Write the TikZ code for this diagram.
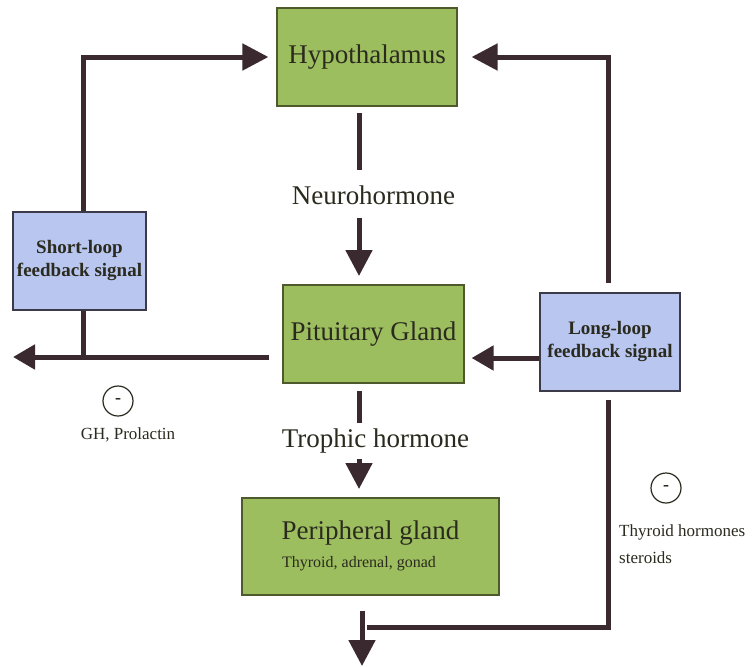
\documentclass[tikz,border=0pt]{standalone}
\usepackage{fontspec}
\setmainfont{Liberation Serif}
\usetikzlibrary{arrows.meta}
\definecolor{boxgreen}{HTML}{9DBE5F}
\definecolor{boxgreenline}{HTML}{4F5A2C}
\definecolor{boxblue}{HTML}{B8C6F0}
\definecolor{boxblueline}{HTML}{3A3A48}
\definecolor{arrowc}{HTML}{3A2A2F}
\definecolor{txt}{HTML}{2A2A1E}
\tikzset{
  greenbox/.style={draw=boxgreenline, fill=boxgreen, line width=1.2pt, inner sep=0pt, text=txt},
  bluebox/.style={draw=boxblueline, fill=boxblue, line width=1.2pt, inner sep=0pt, text=txt, align=center,
     font=\fontsize{19}{23}\selectfont\bfseries},
  shaft/.style={line width=5pt, draw=arrowc},
  arr/.style={line width=5pt, draw=arrowc, -{Triangle[length=26pt,width=26pt]}},
  arrsmall/.style={line width=5pt, draw=arrowc, -{Triangle[length=22pt,width=24pt]}},
  biglabel/.style={text=txt, font=\fontsize{27}{30}\selectfont, inner sep=0pt},
  minuscirc/.style={circle, draw=txt, line width=1.2pt, minimum size=30pt, inner sep=0pt, text=txt,
     font=\fontsize{18}{18}\selectfont\bfseries},
  smalllabel/.style={text=txt, font=\fontsize{17}{27}\selectfont, inner sep=0pt}
}
\begin{document}
\begin{tikzpicture}[x=1pt,y=-1pt]
\useasboundingbox[fill=white] (0,0) rectangle (756,667);

% boxes
\node[greenbox, minimum width=180pt, minimum height=98pt] (hyp) at (367,57)
  {\fontsize{27}{30}\selectfont Hypothalamus};
\node[greenbox, minimum width=181pt, minimum height=98pt] (pit) at (373.5,334)
  {\fontsize{27}{30}\selectfont Pituitary Gland};
\node[greenbox, minimum width=257pt, minimum height=97pt] (per) at (370.5,546.5) {};
\node[text=txt, font=\fontsize{27}{30}\selectfont, inner sep=0pt] (pertitle) at (370.5,533) {Peripheral gland};
\node[text=txt, font=\fontsize{16}{19}\selectfont, inner sep=0pt] (persub) at (359,564) {Thyroid, adrenal, gonad};
\node[bluebox, minimum width=133pt, minimum height=98pt] (short) at (79.5,261)
  {Short-loop\\feedback signal};
\node[bluebox, minimum width=140pt, minimum height=98pt] (long) at (610,342)
  {Long-loop\\feedback signal};

% labels
\node[biglabel] (neuro) at (373.5,195) {Neurohormone};
\node[biglabel] (troph) at (375.5,441) {Trophic hormone};
\node[minuscirc] (m1) at (118,401) {-};
\node[smalllabel] (gh) at (128,435) {GH, Prolactin};
\node[minuscirc] (m2) at (666,488) {-};
\node[smalllabel, anchor=north west, align=left] (thy) at (619,524) {Thyroid hormones\\steroids};

% helper coordinates
\coordinate (nA) at (359,113);
\coordinate (nB) at (359,170);
\coordinate (nC) at (359,218);
\coordinate (nD) at (359,276);
\coordinate (tA) at (359,391);
\coordinate (tB) at (359,423);
\coordinate (tC) at (359,459);
\coordinate (tD) at (359,489);
\coordinate (outL) at (13,357);
\coordinate (pitL) at (269,357);
\coordinate (sBot) at (83,357);
\coordinate (bA) at (362,611);
\coordinate (bB) at (362,666);
\coordinate (hA) at (367,627);
\coordinate (hB) at (608,400);

% left loop: short-loop to hypothalamus
\draw[arr] ([xshift=3.5pt]short.north) |- ([xshift=-8pt]hyp.west);
% right loop: long-loop to hypothalamus
\draw[arr] ([xshift=-2pt,yshift=9pt]long.north) |- ([xshift=14pt]hyp.east);
% neurohormone
\draw[shaft] (nA) -- (nB);
\draw[arr] (nC) -- (nD);
% pituitary output to the left
\draw[arrsmall] (pitL) -- (outL);
\draw[shaft] ([xshift=3.5pt]short.south) -- (sBot);
% long-loop to pituitary
\draw[arrsmall] (long.west |- 0,358) -- ([xshift=7pt]pit.east |- 0,358);
% trophic hormone
\draw[shaft] (tA) -- (tB);
\draw[arr] (tC) -- (tD);
% peripheral output and long loop
\draw[arr] (bA) -- (bB);
\draw[shaft] (hA) -| (hB);
\end{tikzpicture}
\end{document}
